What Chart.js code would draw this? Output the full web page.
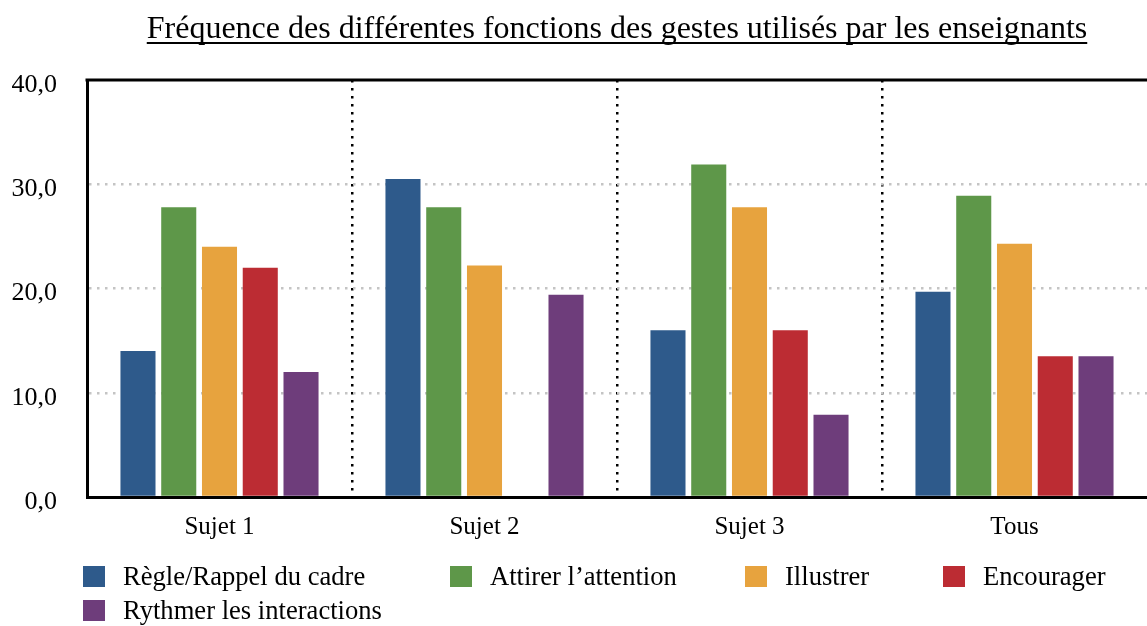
<!DOCTYPE html>
<html>
<head>
<meta charset="utf-8">
<script src="https://cdn.jsdelivr.net/npm/chart.js@4/dist/chart.umd.min.js"></script>
<style>
  html, body { margin: 0; padding: 0; background: #fff; overflow: hidden; }
  #wrap { position: relative; width: 1147px; height: 626px; }
  #legende {
    position: absolute; left: 83px; top: 565px;
    display: grid; grid-template-columns: 367px 295px 198px auto;
    row-gap: 12px;
    font-family: "Liberation Serif", "Times New Roman", serif; font-size: 26.6px; color: #000;
  }
  #legende .item { display: flex; align-items: center; height: 22px; white-space: nowrap; }
  #legende .box { width: 22px; height: 21px; margin-right: 18px; flex: none; }
</style>
</head>
<body>
<div id="wrap">
  <canvas id="gestesChart"></canvas>
  <div id="legende"></div>
</div>
<script>
/*---- donnees ----- */
var categories = ["Sujet 1", "Sujet 2", "Sujet 3", "Tous"];
var fonctions = ["Règle/Rappel du cadre", "Attirer l’attention", "Illustrer", "Encourager", "Rythmer les interactions"];
var regle = [14.0, 30.5, 16.0, 19.7];
var attirer = [27.8, 27.8, 31.9, 28.9];
var illustrer = [24.0, 22.2, 27.8, 24.3];
var encourager = [22.0, 0, 16.0, 13.5];
var rythmer = [12.0, 19.4, 7.9, 13.5];
var yTicks = [0, 10, 20, 30, 40];
var couleurs = ["#2e5a8b", "#5e9749", "#e7a33e", "#bc2c33", "#6e3d7b"];
var titre = "Fréquence des différentes fonctions des gestes utilisés par les enseignants";

var police = '"Liberation Serif", "Times New Roman", serif';

/*---- titre souligne + bord du haut ----- */
var cadrePlugin = {
  id: 'cadre',
  afterDraw: function (chart) {
    var c = chart.ctx, a = chart.chartArea;
    c.save();
    // bord du haut
    c.strokeStyle = '#000';
    c.lineWidth = 3;
    c.beginPath();
    c.moveTo(a.left - 1.5, a.top);
    c.lineTo(a.right, a.top);
    c.stroke();
    // titre
    c.font = '32px ' + police;
    c.fillStyle = '#000';
    c.textAlign = 'center';
    c.textBaseline = 'alphabetic';
    var cx = (a.left + a.right) / 2;
    c.fillText(titre, cx, 38);
    var w = c.measureText(titre).width;
    c.lineWidth = 2;
    c.beginPath();
    c.moveTo(cx - w / 2, 43);
    c.lineTo(cx + w / 2, 43);
    c.stroke();
    c.restore();
  }
};

var series = [regle, attirer, illustrer, encourager, rythmer];

var ctx = document.getElementById('gestesChart').getContext('2d');
var gestesChart = new Chart(ctx, {
  type: 'bar',
  data: {
    labels: categories,
    datasets: series.map(function (s, i) {
      return {
        label: fonctions[i],
        data: s,
        backgroundColor: couleurs[i],
        borderWidth: 0,
        categoryPercentage: 0.769,
        barPercentage: 0.86
      };
    })
  },
  options: {
    responsive: true,
    maintainAspectRatio: false,
    animation: false,
    layout: { padding: { top: 80, left: 0, right: 0, bottom: 69 } },
    plugins: {
      legend: { display: false },
      title: { display: false },
      tooltip: { enabled: false }
    },
    scales: {
      x: {
        grid: {
          offset: true,
          drawTicks: false,
          lineWidth: 2.5,
          color: function (c) { return (c.index >= 1 && c.index <= 3) ? '#000' : 'transparent'; }
        },
        border: { display: true, color: '#000', width: 3, dash: [2.5, 5.5] },
        ticks: { color: '#000', padding: 15, font: { family: police, size: 25 } }
      },
      y: {
        min: 0,
        max: 40,
        afterBuildTicks: function (scale) {
          scale.ticks = yTicks.map(function (v) { return { value: v }; });
        },
        afterFit: function (scale) { scale.width = 87; },
        grid: {
          drawTicks: false,
          lineWidth: 2.5,
          color: function (c) { return (c.tick && c.tick.value > 0 && c.tick.value < 40) ? '#c4c4c4' : 'transparent'; }
        },
        border: { display: true, color: '#000', width: 3, dash: [2.5, 5.5] },
        ticks: {
          color: '#000',
          padding: 30,
          labelOffset: 5,
          font: { family: police, size: 26 },
          callback: function (v) { return v.toFixed(1).replace('.', ','); }
        }
      }
    }
  },
  plugins: [cadrePlugin]
});

/*---- legende ----- */
var legende = document.getElementById('legende');
gestesChart.data.datasets.forEach(function (d) {
  var item = document.createElement('div');
  item.className = 'item';
  var box = document.createElement('span');
  box.className = 'box';
  box.style.background = d.backgroundColor;
  var txt = document.createElement('span');
  txt.textContent = d.label;
  item.appendChild(box);
  item.appendChild(txt);
  legende.appendChild(item);
});
</script>
</body>
</html>
